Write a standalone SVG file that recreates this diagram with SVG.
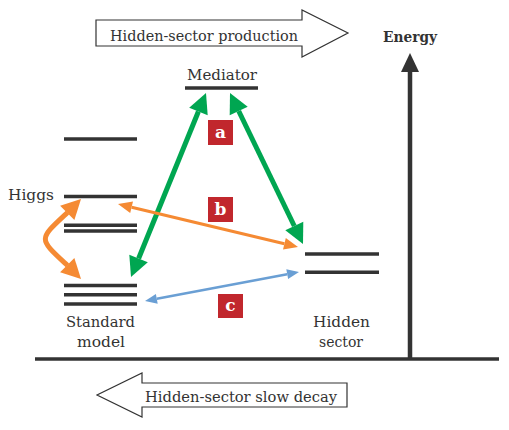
<svg xmlns="http://www.w3.org/2000/svg" width="509" height="430" viewBox="0 0 509 430">
<style>
.t{font-family:"DejaVu Serif",serif;font-size:15px;fill:#333}
.lvl{stroke:#333;stroke-width:3.4;fill:none}
.box{fill:#c1272d}
.lt{font-family:"DejaVu Serif",serif;font-size:17px;font-weight:bold;fill:#fff;text-anchor:middle}
.outline{fill:#fff;stroke:#333;stroke-width:1.2}
</style>
<rect width="509" height="430" fill="#fff"/>
<g id="prod-arrow">
<path class="outline" d="M96,20 H302 V10 L348,33 L302,57 V46 H96 Z"/>
<text class="t" x="110" y="41" textLength="188" lengthAdjust="spacingAndGlyphs">Hidden-sector production</text>
</g>
<g id="decay-arrow">
<path class="outline" d="M347,383 H142 V373 L97,395 L142,417 V407 H347 Z"/>
<text class="t" x="145" y="402" textLength="192" lengthAdjust="spacingAndGlyphs">Hidden-sector slow decay</text>
</g>
<g id="axis">
<line x1="35" y1="359" x2="499" y2="359" stroke="#333" stroke-width="3.5"/>
<line x1="410" y1="359" x2="410" y2="70" stroke="#333" stroke-width="4.5"/>
<polygon points="410,53 419,72 401,72" fill="#333"/>
<text x="383" y="42" textLength="54" lengthAdjust="spacingAndGlyphs" style="font-family:'DejaVu Serif',serif;font-size:14px;font-weight:bold;fill:#333">Energy</text>
</g>
<g id="mediator">
<line class="lvl" x1="185" y1="88" x2="258" y2="88"/>
<text class="t" x="187" y="80" textLength="70" lengthAdjust="spacingAndGlyphs">Mediator</text>
</g>
<g id="standard-model">
<line class="lvl" x1="64" y1="139" x2="137" y2="139"/>
<line class="lvl" x1="64" y1="196.5" x2="137" y2="196.5"/>
<line class="lvl" x1="64" y1="225.3" x2="137" y2="225.3"/>
<line class="lvl" x1="64" y1="231" x2="137" y2="231"/>
<line class="lvl" x1="64" y1="285.5" x2="137" y2="285.5"/>
<line class="lvl" x1="64" y1="294.7" x2="137" y2="294.7"/>
<line class="lvl" x1="64" y1="304" x2="137" y2="304"/>
<text class="t" x="8" y="200" textLength="46" lengthAdjust="spacingAndGlyphs">Higgs</text>
<text class="t" x="66" y="327" textLength="69" lengthAdjust="spacingAndGlyphs">Standard</text>
<text class="t" x="77" y="347" textLength="48" lengthAdjust="spacingAndGlyphs">model</text>
</g>
<g id="hidden-sector">
<line class="lvl" x1="305" y1="254" x2="379" y2="254"/>
<line class="lvl" x1="305" y1="272.3" x2="379" y2="272.3"/>
<text class="t" x="313" y="327" textLength="57" lengthAdjust="spacingAndGlyphs">Hidden</text>
<text class="t" x="319" y="347" textLength="44" lengthAdjust="spacingAndGlyphs">sector</text>
</g>
<g id="connectors">
<g fill="#00a651">
<line x1="198.4" y1="111.5" x2="138.6" y2="258.5" stroke="#00a651" stroke-width="5"/>
<polygon points="206,93 207.7,115.3 189.2,107.7"/>
<polygon points="131,277 147.8,262.3 129.3,254.7"/>
<line x1="238.7" y1="111" x2="294.3" y2="226" stroke="#00a651" stroke-width="5"/>
<polygon points="230,93 247.7,106.65 229.7,115.35"/>
<polygon points="303,244 303.3,221.65 285.3,230.35"/>
</g>
<g fill="#f58a33">
<line x1="131.6" y1="207.25" x2="284.4" y2="243.75" stroke="#f58a33" stroke-width="3"/>
<polygon points="118,204 130.2,213.1 133,201.4"/>
<polygon points="298,247 283,249.6 285.8,237.9"/>
<path d="M67.4,212.6 C38,240 38,238 67.4,265.4" fill="none" stroke="#f58a33" stroke-width="5"/>
<polygon points="81,199 74.4,220 60.1,205.7"/>
<polygon points="81,279 74.4,258 60.1,272.3"/>
</g>
<g fill="#6a9fd4">
<line x1="156.8" y1="298.8" x2="287.2" y2="274.2" stroke="#6a9fd4" stroke-width="2.5"/>
<polygon points="145,301 157.7,303.7 155.9,293.9"/>
<polygon points="299,272 288.1,279.1 286.3,269.3"/>
</g>
</g>
<g id="label-a"><rect class="box" x="208" y="120" width="25" height="25"/><text class="lt" x="220.5" y="138">a</text></g>
<g id="label-b"><rect class="box" x="208" y="197" width="25" height="25"/><text class="lt" x="220.5" y="215">b</text></g>
<g id="label-c"><rect class="box" x="218" y="294" width="25" height="24"/><text class="lt" x="230.5" y="311">c</text></g>
</svg>
